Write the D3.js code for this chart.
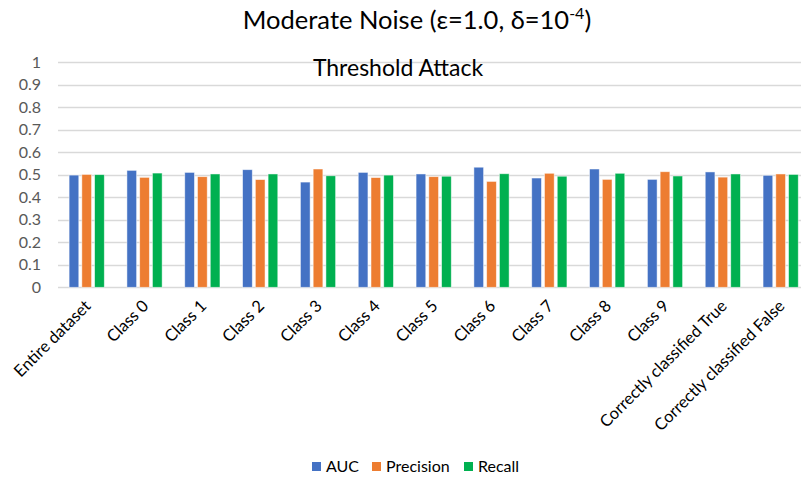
<!DOCTYPE html>
<html>
<head>
<meta charset="utf-8">
<script src="https://cdn.jsdelivr.net/npm/d3@7"></script>
<style>
  body { margin: 0; background: #fff; }
  text { font-family: Lato, "Open Sans", sans-serif; }
</style>
</head>
<body>
<script>
var categories = ["Entire dataset", "Class 0", "Class 1", "Class 2", "Class 3", "Class 4",
                  "Class 5", "Class 6", "Class 7", "Class 8", "Class 9",
                  "Correctly classified True", "Correctly classified False"];
var seriesNames = ["AUC", "Precision", "Recall"];
var seriesColors = ["#4472c4", "#ed7d31", "#00b050"];
var auc       = [0.498, 0.519, 0.510, 0.522, 0.467, 0.510, 0.503, 0.533, 0.485, 0.525, 0.479, 0.512, 0.497];
var precision = [0.501, 0.488, 0.491, 0.478, 0.525, 0.487, 0.491, 0.470, 0.506, 0.479, 0.513, 0.489, 0.503];
var recall    = [0.500, 0.507, 0.503, 0.503, 0.495, 0.498, 0.493, 0.504, 0.493, 0.506, 0.494, 0.503, 0.501];
var yTicks = [0, 0.1, 0.2, 0.3, 0.4, 0.5, 0.6, 0.7, 0.8, 0.9, 1];

var width = 801, height = 478;
var svg = d3.select("body").append("svg")
    .attr("width", width)
    .attr("height", height);

var seriesData = [auc, precision, recall];

var x0 = d3.scaleBand()
    .domain(categories)
    .range([57.8, 57.8 + 13 * 57.83]);
var x1 = d3.scaleBand()
    .domain(seriesNames)
    .range([11.3, 46.5])
    .paddingInner(0.24);
var y = d3.scaleLinear()
    .domain([0, 1])
    .range([287.3, 62]);

// gridlines
svg.append("g")
    .selectAll("line")
    .data(yTicks)
    .enter()
    .append("line")
    .attr("x1", 58)
    .attr("x2", width)
    .attr("y1", function(d) { return Math.round(y(d)) + 0.5; })
    .attr("y2", function(d) { return Math.round(y(d)) + 0.5; })
    .attr("stroke", "#d9d9d9")
    .attr("stroke-width", 1.3);

// y labels
svg.append("g")
    .selectAll("text")
    .data(yTicks)
    .enter()
    .append("text")
    .attr("x", 41)
    .attr("y", function(d) { return y(d); })
    .attr("dy", "0.35em")
    .attr("text-anchor", "end")
    .attr("font-size", "16px")
    .attr("fill", "#595959")
    .text(function(d) { return d3.format("~g")(d); });

// bars
var groups = svg.append("g")
    .selectAll("g")
    .data(categories)
    .enter()
    .append("g")
    .attr("transform", function(d) { return "translate(" + x0(d) + ",0)"; });

groups.selectAll("rect")
    .data(function(d, i) {
        return seriesNames.map(function(s, j) { return { s: s, v: seriesData[j][i], c: seriesColors[j] }; });
    })
    .enter()
    .append("rect")
    .attr("x", function(d) { return x1(d.s); })
    .attr("width", x1.bandwidth())
    .attr("y", function(d) { return y(d.v); })
    .attr("height", function(d) { return y(0) - y(d.v); })
    .attr("fill", function(d) { return d.c; })
    .attr("stroke", "#ffffff")
    .attr("stroke-opacity", 0.6)
    .attr("stroke-width", 0.8);

// x labels
svg.append("g")
    .selectAll("text")
    .data(categories)
    .enter()
    .append("text")
    .attr("transform", function(d) {
        return "translate(" + (x0(d) + x0.bandwidth() / 2 + 1) + ",303) rotate(-45)";
    })
    .attr("text-anchor", "end")
    .attr("dy", "0.35em")
    .attr("font-size", "16.5px")
    .attr("fill", "#000")
    .text(function(d) { return d; });

// title
var title = svg.append("text")
    .attr("x", 417)
    .attr("y", 29)
    .attr("text-anchor", "middle")
    .attr("font-size", "25.5px")
    .attr("fill", "#000");
title.append("tspan").text("Moderate Noise (ε=1.0, δ=10");
title.append("tspan").attr("font-size", "16px").attr("dy", -10).text("-4");
title.append("tspan").attr("dy", 10).text(")");

svg.append("text")
    .attr("x", 398)
    .attr("y", 76)
    .attr("text-anchor", "middle")
    .attr("font-size", "23px")
    .attr("fill", "#000")
    .text("Threshold Attack");

// legend
var legendX = [312, 372, 464];
var legend = svg.append("g")
    .selectAll("g")
    .data(seriesNames)
    .enter()
    .append("g")
    .attr("transform", function(d, i) { return "translate(" + legendX[i] + ",462)"; });
legend.append("rect")
    .attr("width", 9)
    .attr("height", 9)
    .attr("fill", function(d, i) { return seriesColors[i]; });
legend.append("text")
    .attr("x", 14)
    .attr("y", 4.5)
    .attr("dy", "0.35em")
    .attr("font-size", "16px")
    .attr("fill", "#000")
    .text(function(d) { return d; });
</script>
</body>
</html>
